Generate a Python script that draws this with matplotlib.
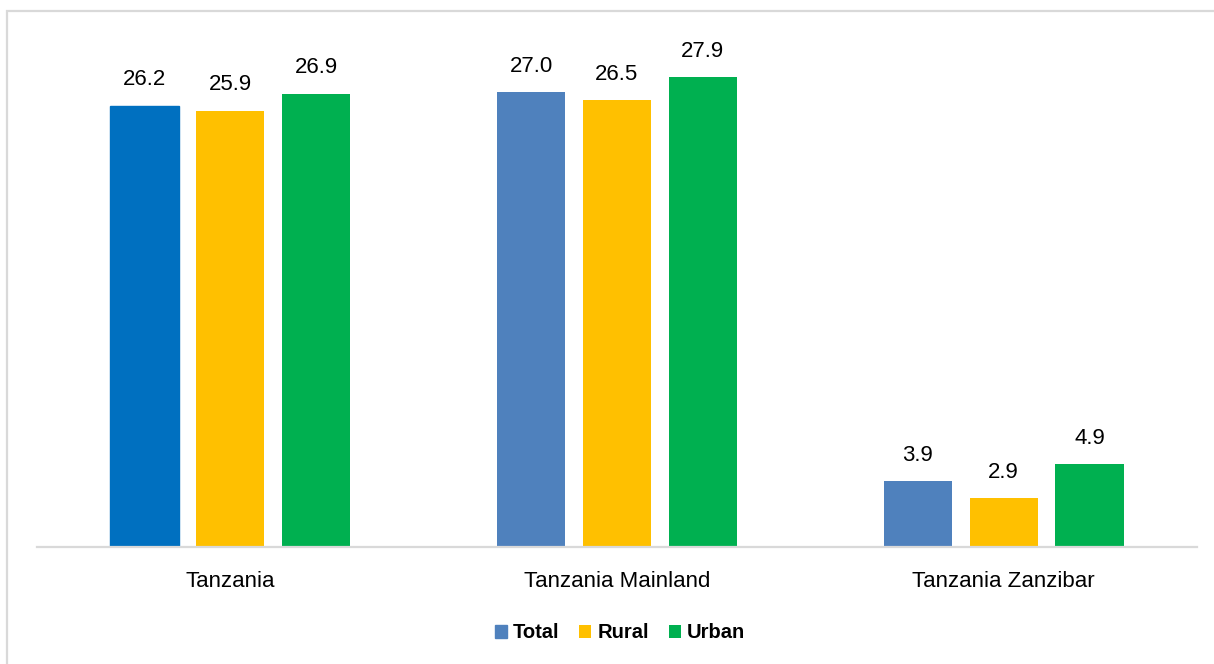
import matplotlib.pyplot as plt
import numpy as np
from matplotlib.patches import Rectangle

# data
regions = ['Tanzania', 'Tanzania Mainland', 'Tanzania Zanzibar']
series = ['Total', 'Rural', 'Urban']
total = [26.2, 27.0, 3.9]
rural = [25.9, 26.5, 2.9]
urban = [26.9, 27.9, 4.9]

colors = ['#4F81BD', '#FFC000', '#00B050']
first_total_color = '#0070C0'  # first bar is a darker blue in the source

plt.rcParams['font.family'] = ['Liberation Sans', 'DejaVu Sans']

W, H = 1214, 664
fig = plt.figure(figsize=(W / 100, H / 100), dpi=100)

# light grey frame round the chart area
fig.patches.append(Rectangle((7 / W, -0.05), 1.1, 1 - 11 / H + 0.05,
                             transform=fig.transFigure, fill=False,
                             edgecolor='#D9D9D9', linewidth=1.6))

ax = fig.add_axes([37 / W, 1 - 547 / H, (1197 - 37) / W, (547 - 12) / H])

x = np.arange(len(regions))
bw = 0.176
step = 0.222
bars = []
for i, (vals, c) in enumerate(zip([total, rural, urban], colors)):
    b = ax.bar(x + (i - 1) * step, vals, bw, color=c, label=series[i])
    bars.append(b)
bars[0][0].set_color(first_total_color)

for b in bars:
    for rect in b:
        h = rect.get_height()
        ax.annotate(f'{h:.1f}', (rect.get_x() + rect.get_width() / 2, h),
                    xytext=(0, 11), textcoords='offset points',
                    ha='center', va='bottom', fontsize=16, color='#000000')

ax.set_xlim(-0.5, 2.5)
ax.set_ylim(0, 31.75)
ax.set_xticks(x)
ax.set_xticklabels(regions, fontsize=16)
ax.tick_params(axis='x', length=0, pad=17)
ax.set_yticks([])
for s in ['top', 'right', 'left']:
    ax.spines[s].set_visible(False)
ax.spines['bottom'].set_color('#D9D9D9')
ax.spines['bottom'].set_linewidth(1.6)

leg = fig.legend(handles=bars, labels=series, loc='center',
                 bbox_to_anchor=(620 / W, 1 - 633 / H), ncol=3, frameon=False,
                 prop={'weight': 'bold', 'size': 14.5}, handlelength=0.6,
                 handleheight=0.6, handletextpad=0.3, columnspacing=1.0)
leg.legend_handles[0].set_color(colors[0])

fig.savefig('out.png', dpi=100)
